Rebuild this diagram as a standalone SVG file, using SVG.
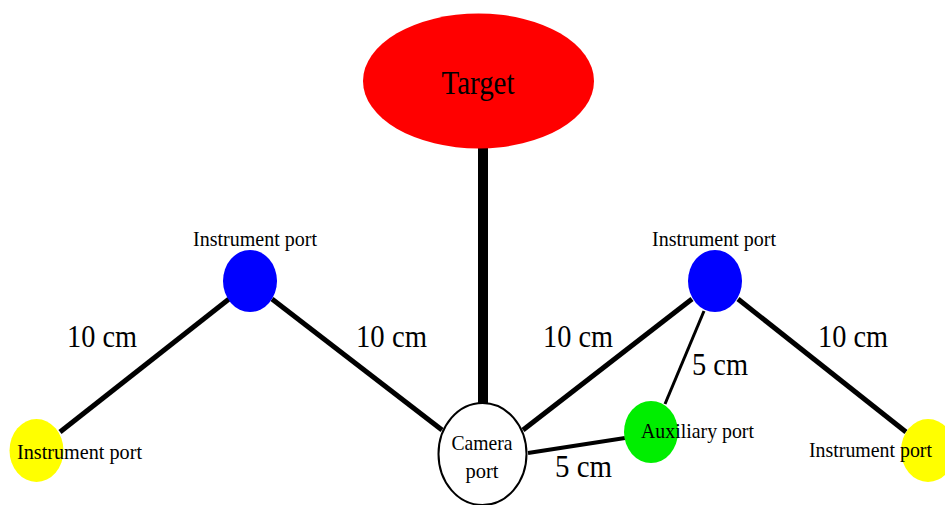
<svg xmlns="http://www.w3.org/2000/svg" width="945" height="505" viewBox="0 0 945 505">
<style>
text{font-family:"Liberation Serif","Times New Roman",serif;fill:#000}
.s{font-size:21px}
.m{font-size:32px}
.c{stroke:#000;stroke-linecap:butt;fill:none}
</style>
<rect width="945" height="505" fill="#fff"/>
<g id="connectors">
<line class="c" x1="483" y1="148" x2="483" y2="404" stroke-width="10"/>
<line class="c" x1="60" y1="432" x2="229" y2="299" stroke-width="5"/>
<line class="c" x1="272" y1="299" x2="442" y2="430" stroke-width="5"/>
<line class="c" x1="523" y1="430" x2="692" y2="299" stroke-width="5"/>
<line class="c" x1="704" y1="311" x2="665" y2="404" stroke-width="3"/>
<line class="c" x1="528" y1="453" x2="625" y2="438" stroke-width="4"/>
<line class="c" x1="738" y1="299" x2="906" y2="432" stroke-width="5"/>
<text class="m" x="67" y="347" textLength="70" lengthAdjust="spacingAndGlyphs">10 cm</text>
<text class="m" x="356" y="347" textLength="71" lengthAdjust="spacingAndGlyphs">10 cm</text>
<text class="m" x="543" y="347" textLength="70" lengthAdjust="spacingAndGlyphs">10 cm</text>
<text class="m" x="818" y="347" textLength="70" lengthAdjust="spacingAndGlyphs">10 cm</text>
<text class="m" x="692" y="375" textLength="56" lengthAdjust="spacingAndGlyphs">5 cm</text>
<text class="m" x="555" y="477" textLength="57" lengthAdjust="spacingAndGlyphs">5 cm</text>
</g>
<g id="target">
<ellipse cx="478.5" cy="81" rx="115.5" ry="67.5" fill="#ff0000"/>
<text x="478" y="94" font-size="34" text-anchor="middle" textLength="73" lengthAdjust="spacingAndGlyphs">Target</text>
</g>
<g id="camera-port">
<ellipse cx="482.5" cy="454" rx="44" ry="51" fill="#fff" stroke="#000" stroke-width="2"/>
<text class="s" x="482" y="450" text-anchor="middle" textLength="61" lengthAdjust="spacingAndGlyphs">Camera</text>
<text class="s" x="482" y="478" text-anchor="middle" textLength="33" lengthAdjust="spacingAndGlyphs">port</text>
</g>
<g id="instrument-left-top">
<ellipse cx="250" cy="281" rx="27" ry="31" fill="#0000ff"/>
<text class="s" x="193" y="246" textLength="124" lengthAdjust="spacingAndGlyphs">Instrument port</text>
</g>
<g id="instrument-left-bottom">
<ellipse cx="36.5" cy="450.5" rx="27" ry="31.5" fill="#ffff00"/>
<text class="s" x="17" y="459" textLength="125" lengthAdjust="spacingAndGlyphs">Instrument port</text>
</g>
<g id="instrument-right-top">
<ellipse cx="715" cy="281" rx="27" ry="31" fill="#0000ff"/>
<text class="s" x="652" y="246" textLength="124" lengthAdjust="spacingAndGlyphs">Instrument port</text>
</g>
<g id="auxiliary-port">
<ellipse cx="651" cy="432" rx="27" ry="31" fill="#00ee00"/>
<text class="s" x="641" y="438" textLength="113" lengthAdjust="spacingAndGlyphs">Auxiliary port</text>
</g>
<g id="instrument-right-bottom">
<ellipse cx="928" cy="450.5" rx="27" ry="31.5" fill="#ffff00"/>
<text class="s" x="809" y="457" textLength="123" lengthAdjust="spacingAndGlyphs">Instrument port</text>
</g>
</svg>
